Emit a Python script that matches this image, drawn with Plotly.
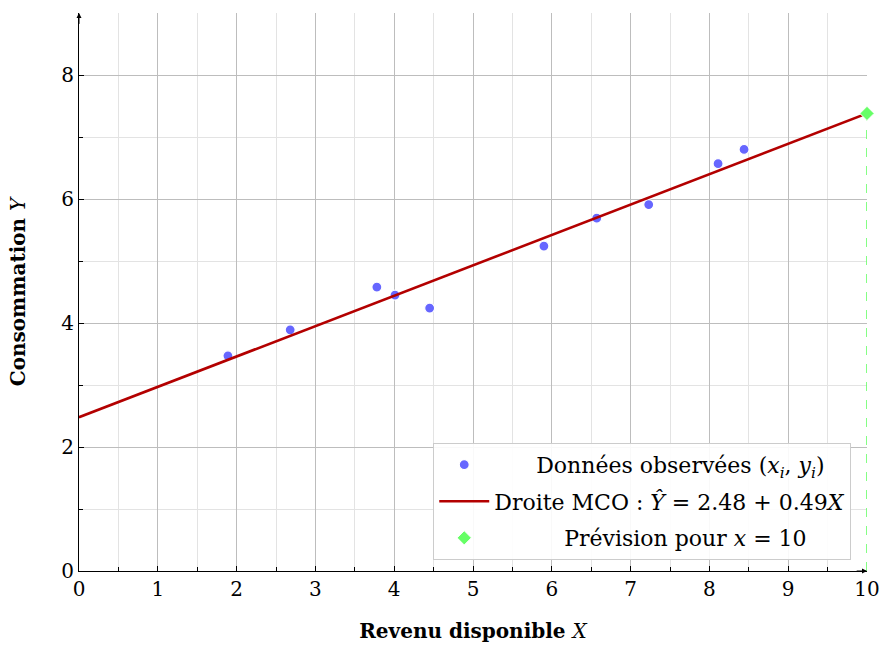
import plotly.graph_objects as go

# Data
x_obs = [1.89, 2.68, 3.78, 4.01, 4.45, 5.90, 6.57, 7.23, 8.11, 8.44]
y_obs = [3.47, 3.89, 4.58, 4.45, 4.24, 5.24, 5.69, 5.91, 6.57, 6.80]
intercept = 2.48
slope = 0.49
x_line = [0, 10]
y_line = [intercept + slope * v for v in x_line]
x_pred = [10]
y_pred = [intercept + slope * 10]

FONT = "DejaVu Serif"
NB = "\u00a0"

fig = go.Figure()

# dashed vertical at prediction
fig.add_trace(go.Scatter(
    x=[x_pred[0], x_pred[0]], y=[0, y_pred[0]], mode="lines",
    line=dict(color="#66ff66", width=1.6, dash="dash"),
    showlegend=False, hoverinfo="skip", cliponaxis=False))

fig.add_trace(go.Scatter(
    x=x_obs, y=y_obs, mode="markers", legendgroup="a",
    marker=dict(color="#6666ff", size=10, line=dict(color="white", width=1.2)),
    name=NB * 6 + "Données observées (<i>x<sub>i</sub></i>, <i>y<sub>i</sub></i>)"))

fig.add_trace(go.Scatter(
    x=x_line, y=y_line, mode="lines", legendgroup="b",
    line=dict(color="#b30000", width=2.6),
    name="Droite MCO : <i>Ŷ</i> = 2.48 + 0.49<i>X</i>"))

fig.add_trace(go.Scatter(
    x=x_pred, y=y_pred, mode="markers", legendgroup="c",
    marker=dict(color="#66ff66", symbol="diamond", size=11, line=dict(color="white", width=1)),
    name=NB * 10 + "Prévision pour <i>x</i> = 10", cliponaxis=False))

fig.update_layout(
    width=882, height=650,
    margin=dict(l=79, r=15, t=13, b=79),
    paper_bgcolor="white", plot_bgcolor="white",
    font=dict(family=FONT, size=19, color="black"),
    xaxis=dict(
        range=[0, 10], dtick=1, tick0=0, automargin=False,
        showgrid=True, gridcolor="#bdbdbd", gridwidth=1,
        minor=dict(dtick=0.5, showgrid=True, gridcolor="#e3e3e3", ticks="inside", ticklen=4, tickcolor="black"),
        ticks="inside", ticklen=5, tickcolor="black",
        showline=True, linecolor="black", linewidth=1,
        zeroline=False,
        title=dict(text="<b>Revenu disponible </b><i>X</i>", font=dict(size=20), standoff=23),
        tickfont=dict(size=20),
    ),
    yaxis=dict(
        range=[0, 9], tickvals=[0, 2, 4, 6, 8], automargin=False,
        showgrid=True, gridcolor="#bdbdbd", gridwidth=1,
        minor=dict(dtick=1, showgrid=True, gridcolor="#e3e3e3", ticks="inside", ticklen=4, tickcolor="black"),
        ticks="inside", ticklen=5, tickcolor="black",
        showline=True, linecolor="black", linewidth=1,
        zeroline=False,
        title=dict(text="<b>Consommation </b><i>Y</i>", font=dict(size=20), standoff=30),
        tickfont=dict(size=20),
    ),
    legend=dict(
        x=0.98, y=0.02, xanchor="right", yanchor="bottom",
        bgcolor="rgba(255,255,255,0.9)", bordercolor="#cccccc", borderwidth=1,
        font=dict(size=22), itemwidth=50, traceorder="grouped", tracegroupgap=5,
    ),
)

# axis arrows
fig.add_annotation(x=10, y=0, ax=9.85, ay=0, xref="x", yref="y", axref="x", ayref="y",
                   showarrow=True, arrowhead=2, arrowsize=1, arrowwidth=1, arrowcolor="black", text="")
fig.add_annotation(x=0, y=9, ax=0, ay=8.8, xref="x", yref="y", axref="x", ayref="y",
                   showarrow=True, arrowhead=2, arrowsize=1, arrowwidth=1, arrowcolor="black", text="")

fig.write_html("out.html")
